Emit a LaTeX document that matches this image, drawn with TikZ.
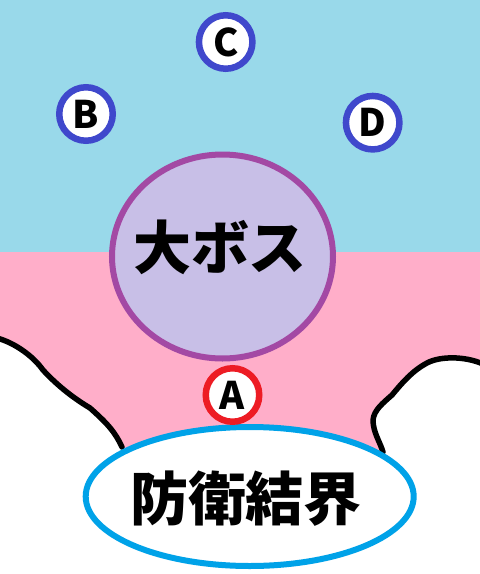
\documentclass[tikz,border=0pt]{standalone}
\usepackage{fontspec}
\newfontfamily\cjk{Noto Sans CJK JP}[BoldFont={Noto Sans CJK JP Black}]
\definecolor{skyc}{HTML}{99D9EA}
\definecolor{pinkc}{HTML}{FFAEC9}
\definecolor{lavc}{HTML}{C8BFE7}
\definecolor{purc}{HTML}{A349A4}
\definecolor{indc}{HTML}{3F48CC}
\definecolor{redc}{HTML}{ED1C24}
\definecolor{barc}{HTML}{00A2E8}
\tikzset{
  lettermark/.style={circle, draw=indc, line width=6.5pt, fill=white, minimum size=53.5pt, inner sep=0pt,
     font=\cjk\bfseries\fontsize{38}{38}\selectfont},
  bosscircle/.style={ellipse, draw=purc, line width=6pt, fill=lavc, minimum width=221pt, minimum height=204pt, inner sep=0pt},
  barrier/.style={ellipse, draw=barc, line width=6pt, fill=white, minimum width=328pt, minimum height=139pt, inner sep=0pt},
  bigtext/.style={font=\cjk\bfseries\fontsize{58}{58}\selectfont, inner sep=0pt},
  cliff/.style={draw=black, line width=5.5pt, line join=round, line cap=round}
}
\usetikzlibrary{shapes.geometric}
\begin{document}
\begin{tikzpicture}[x=1pt,y=-1pt]
\useasboundingbox (0,0) rectangle (480,574);
\fill[white] (0,0) rectangle (480,574);
\fill[skyc] (0,0) rectangle (480,252);
% pink region
\fill[pinkc] (0,252) -- (480,252) -- (480,363)
  .. controls (465,356) and (440,356) .. (427,363)
  .. controls (412,371) and (402,383) .. (392,395)
  .. controls (383,403) and (374,410) .. (373,420)
  .. controls (373,432) and (380,442) .. (383,452)
  -- (250,500) -- (122,447)
  .. controls (115,432) and (108,424) .. (90,408)
  .. controls (70,396) and (55,383) .. (43,370)
  .. controls (33,356) and (15,343) .. (0,338) -- cycle;
\draw[cliff] (-3,338) .. controls (15,343) and (33,356) .. (43,370)
  .. controls (55,383) and (70,396) .. (90,408)
  .. controls (108,424) and (115,432) .. (122,447);
\draw[cliff] (483,364) .. controls (465,356) and (440,356) .. (427,363)
  .. controls (412,371) and (402,383) .. (392,395)
  .. controls (383,403) and (374,410) .. (373,420)
  .. controls (373,432) and (380,442) .. (383,452);
\node[bosscircle] (boss) at (222.5,256.5) {};
\node[bigtext] (bosslabel) at (220,247) {大ボス};
\node[barrier] (barrier) at (249.7,496.5) {};
\node[bigtext] (barrierlabel) at (246,499) {防衛結界};
\node[lettermark] (C) at (225.7,42) {C};
\node[lettermark] (B) at (86,114) {B};
\node[lettermark] (D) at (372.7,122.7) {D};
\node[lettermark, draw=redc] (A) at (232.5,395) {A};
\end{tikzpicture}
\end{document}
